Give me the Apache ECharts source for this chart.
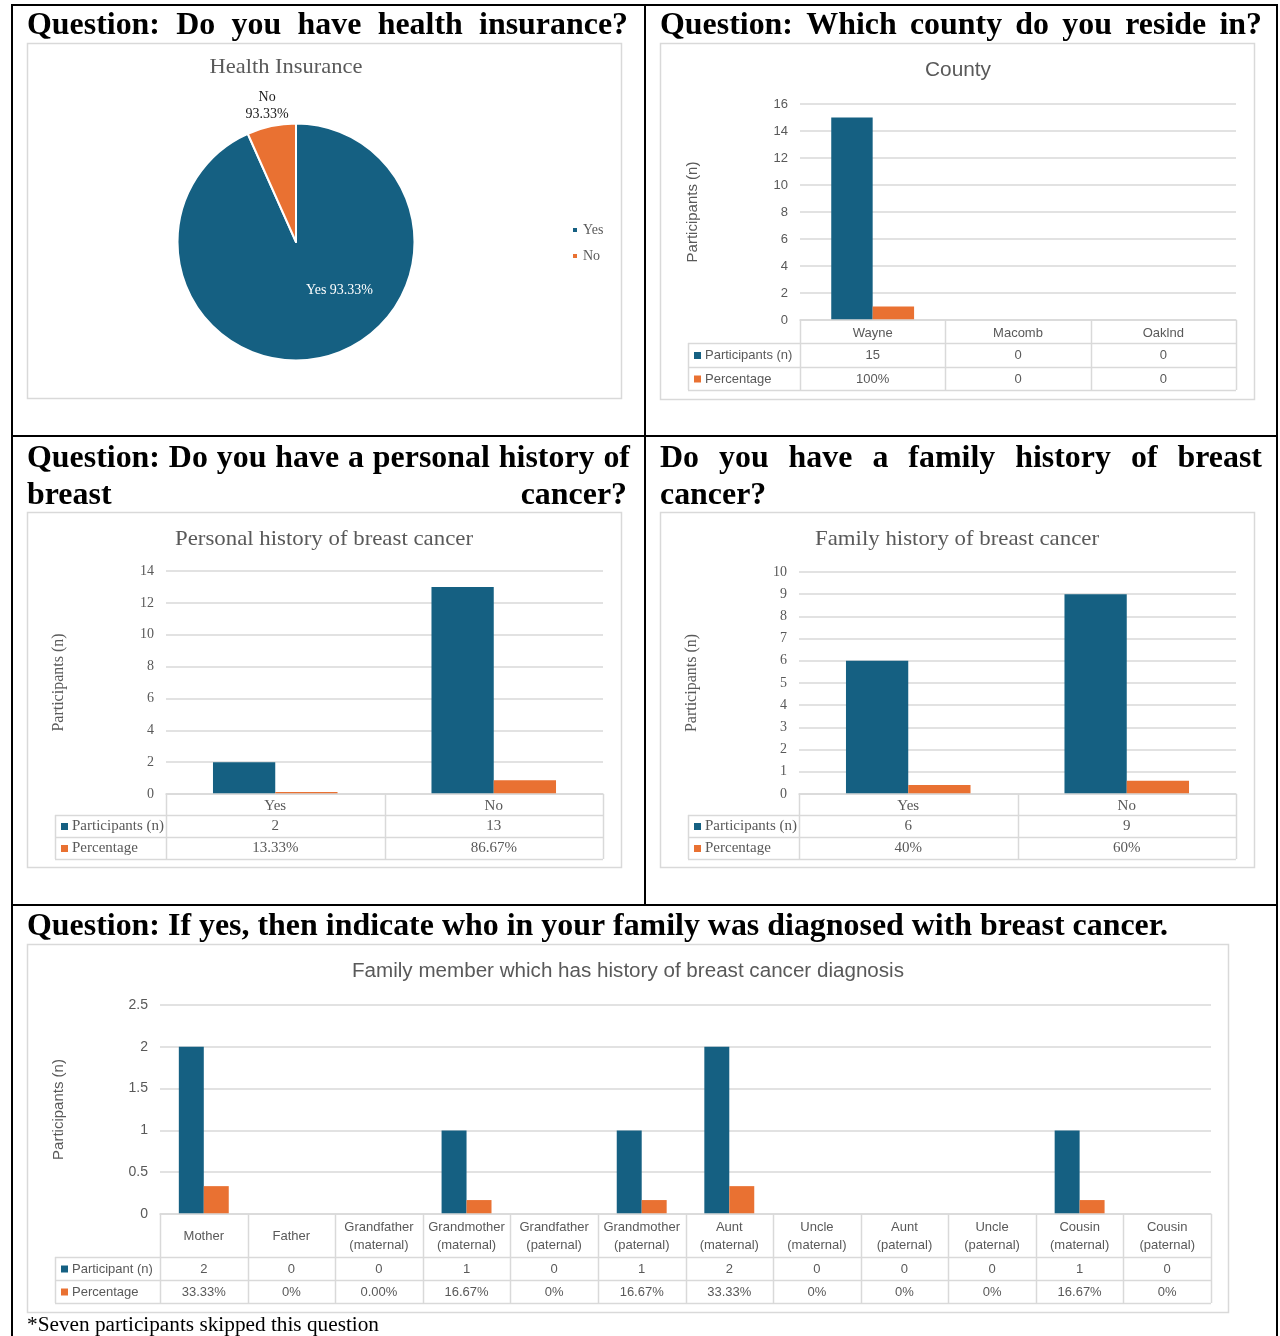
<!DOCTYPE html>
<html>
<head>
<meta charset="utf-8">
<title>Survey responses: insurance, county and breast cancer history</title>
<script src="https://cdn.jsdelivr.net/npm/echarts@6/dist/echarts.min.js"></script>
<style>
  html, body { margin: 0; padding: 0; background: #ffffff; }
  #main { width: 1280px; height: 1336px; }
</style>
</head>
<body>
<div id="main"></div>
<script>
// ---------------- survey data ----------------
const insuranceCategories = ['Yes', 'No'];
const insuranceShares = [93.33, 6.67];
const insuranceLabels = ['Yes 93.33%', 'No\n93.33%'];

const countyCategories = ['Wayne', 'Macomb', 'Oaklnd'];
const countyParticipants = [15, 0, 0];
const countyPercentText = ['100%', '0', '0'];

const personalCategories = ['Yes', 'No'];
const personalParticipants = [2, 13];
const personalPercentText = ['13.33%', '86.67%'];

const familyCategories = ['Yes', 'No'];
const familyParticipants = [6, 9];
const familyPercentText = ['40%', '60%'];

const memberCategories = [
  'Mother', 'Father', 'Grandfather\n(maternal)', 'Grandmother\n(maternal)',
  'Grandfather\n(paternal)', 'Grandmother\n(paternal)', 'Aunt\n(maternal)', 'Uncle\n(maternal)',
  'Aunt\n(paternal)', 'Uncle\n(paternal)', 'Cousin\n(maternal)', 'Cousin\n(paternal)'
];
const memberParticipants = [2, 0, 0, 1, 0, 1, 2, 0, 0, 0, 1, 0];
const memberPercentText = ['33.33%', '0%', '0.00%', '16.67%', '0%', '16.67%', '33.33%', '0%', '0%', '0%', '16.67%', '0%'];

const countyAxis = { max: 16, interval: 2 };
const personalAxis = { max: 14, interval: 2 };
const familyAxis = { max: 10, interval: 1 };
const memberAxis = { max: 2.5, interval: 0.5 };

// ---------------- styling ----------------
const SERIF = "'Liberation Serif', 'Times New Roman', serif";
const SANS = "'Liberation Sans', Arial, sans-serif";
const BLUE = '#156082';
const ORANGE = '#E97132';
const GRID_C = '#d9d9d9';
const TEXT_C = '#595959';
const FRAME_C = '#000000';

// "100%" -> 1, "13.33%" -> 0.1333, "0" -> 0
function percentValue(t) {
  const v = parseFloat(t);
  return t.indexOf('%') >= 0 ? v / 100 : v;
}

// ---------------- panel layout ----------------
const barPanels = [
  {
    font: SANS, box: [660, 43, 594, 356],
    title: 'County', titleX: 958, titleY: 70, titleSize: 20, titleW: 66,
    grid: { left: 800, top: 104, width: 436, height: 216 },
    axis: countyAxis, tickSize: 13, nameSize: 15, nameGap: 100, catSize: 13, cellSize: 13, catShift: 1.5,
    tableLeft: 688, rows: [23, 24, 23], rowLabels: ['Participants (n)', 'Percentage'],
    cats: countyCategories, counts: countyParticipants, pct: countyPercentText
  },
  {
    font: SERIF, box: [27, 512, 594, 355],
    title: 'Personal history of breast cancer', titleX: 324, titleY: 539, titleSize: 22, titleW: 298,
    grid: { left: 166, top: 571, width: 437, height: 223 },
    axis: personalAxis, tickSize: 14, nameSize: 16, nameGap: 99, catSize: 15, cellSize: 15, catShift: 1.5,
    tableLeft: 55, rows: [21, 22, 22], rowLabels: ['Participants (n)', 'Percentage'],
    cats: personalCategories, counts: personalParticipants, pct: personalPercentText
  },
  {
    font: SERIF, box: [660, 512, 594, 355],
    title: 'Family history of breast cancer', titleX: 957, titleY: 539, titleSize: 22, titleW: 284,
    grid: { left: 799, top: 572, width: 437, height: 222 },
    axis: familyAxis, tickSize: 14, nameSize: 16, nameGap: 99, catSize: 15, cellSize: 15, catShift: 1.5,
    tableLeft: 688, rows: [21, 22, 22], rowLabels: ['Participants (n)', 'Percentage'],
    cats: familyCategories, counts: familyParticipants, pct: familyPercentText
  },
  {
    font: SANS, box: [27, 944, 1201, 368],
    title: 'Family member which has history of breast cancer diagnosis', titleX: 628, titleY: 971, titleSize: 20, titleW: 552,
    grid: { left: 160, top: 1005, width: 1051, height: 209 },
    axis: memberAxis, tickSize: 14, nameSize: 15, nameGap: 94, catSize: 13, cellSize: 13, lineHeight: 18, catShift: 1,
    tableLeft: 55, rows: [43, 23, 23], rowLabels: ['Participant (n)', 'Percentage'],
    cats: memberCategories, counts: memberParticipants, pct: memberPercentText
  }
];

const pieCenter = [296, 242];
const pieRadius = 118.5;

// ---------------- text measuring ----------------
const measureCtx = document.createElement('canvas').getContext('2d');
function textWidth(text, font) {
  measureCtx.font = font;
  return measureCtx.measureText(text).width;
}
function fontFirst(family) { return family.split(',')[0]; }

const Q_SIZE = 32;
const Q_FONT = 'bold ' + Q_SIZE + "px 'Liberation Serif'";
const longQuestion = 'Question: If yes, then indicate who in your family was diagnosed with breast cancer.';
const qScale = (1168 - 27) / textWidth(longQuestion, Q_FONT);

// heading line, word by word; justified lines spread the words over [x0, x1]
function questionLine(text, x0, x1, yMid, justify) {
  const words = text.split(' ');
  const widths = words.map(w => textWidth(w, Q_FONT) * qScale);
  const used = widths.reduce((a, b) => a + b, 0);
  const gap = (justify && words.length > 1)
    ? (x1 - x0 - used) / (words.length - 1)
    : textWidth(' ', Q_FONT) * qScale;
  const els = [];
  let x = x0;
  words.forEach((w, i) => {
    els.push({
      type: 'text', x: x, y: yMid, scaleX: qScale, z: 10,
      style: {
        text: w, fill: '#000', fontFamily: "'Liberation Serif'", fontWeight: 'bold', fontSize: Q_SIZE,
        align: 'left', verticalAlign: 'middle', textAlign: 'left', textVerticalAlign: 'middle'
      }
    });
    x += widths[i] + gap;
  });
  return els;
}

function txt(text, x, y, font, size, color, align, extra) {
  return Object.assign({
    type: 'text', x: x, y: y, z: 10,
    style: {
      text: text, fill: color, fontFamily: font, fontSize: size,
      align: align || 'center', verticalAlign: 'middle',
      textAlign: align || 'center', textVerticalAlign: 'middle'
    }
  }, extra || {});
}

// chart title stretched to its box width
function titleText(text, x, y, font, size, width) {
  const s = width / textWidth(text, size + 'px ' + fontFirst(font));
  return txt(text, x, y, font, size, TEXT_C, 'center', { scaleX: s });
}

function hline(x1, x2, y, color, w) {
  return { type: 'line', z: 5, shape: { x1: x1, y1: y, x2: x2, y2: y }, style: { stroke: color, lineWidth: w } };
}
function vline(x, y1, y2, color, w) {
  return { type: 'line', z: 5, shape: { x1: x, y1: y1, x2: x, y2: y2 }, style: { stroke: color, lineWidth: w } };
}
function box(x, y, w, h) {
  return { type: 'rect', z: 1, shape: { x: x + 0.5, y: y + 0.5, width: w, height: h }, style: { fill: 'none', stroke: GRID_C, lineWidth: 1.5 } };
}

// ---------------- graphic elements ----------------
const graphics = [];

// outer page frame
graphics.push(hline(11, 1278, 5, FRAME_C, 2));
graphics.push(hline(11, 1278, 436, FRAME_C, 2));
graphics.push(hline(11, 1278, 905, FRAME_C, 2));
graphics.push(vline(12, 4, 1336, FRAME_C, 2));
graphics.push(vline(1277, 4, 1336, FRAME_C, 2));
graphics.push(vline(645, 4, 905, FRAME_C, 2));

// question headings
graphics.push(...questionLine('Question: Do you have health insurance?', 27, 628, 26, true));
graphics.push(...questionLine('Question: Which county do you reside in?', 660, 1262, 26, true));
graphics.push(...questionLine('Question: Do you have a personal history of', 27, 630, 459, true));
graphics.push(...questionLine('breast cancer?', 27, 627, 496, true));
graphics.push(...questionLine('Do you have a family history of breast', 660, 1262, 459, true));
graphics.push(...questionLine('cancer?', 660, 1262, 496, false));
graphics.push(...questionLine(longQuestion, 27, 1168, 927, false));

// footnote
const noteText = '*Seven participants skipped this question';
const noteScale = (379 - 27) / textWidth(noteText, "20px 'Liberation Serif'");
graphics.push(txt(noteText, 27, 1326, "'Liberation Serif'", 20, '#000', 'left', { scaleX: noteScale }));

// pie panel box and title
graphics.push(box(27, 43, 594, 355));
graphics.push(titleText('Health Insurance', 286, 67, SERIF, 22, 153));

// bar panels: box, title and data table under each plot
barPanels.forEach(p => {
  const b = p.box;
  graphics.push(box(b[0], b[1], b[2], b[3]));
  graphics.push(titleText(p.title, p.titleX, p.titleY, p.font, p.titleSize, p.titleW));

  const g = p.grid;
  const x0 = g.left, x1 = g.left + g.width;
  const y0 = g.top + g.height;
  const yH = y0 + p.rows[0];
  const yR1 = yH + p.rows[1];
  const yR2 = yR1 + p.rows[2];
  const cw = g.width / p.cats.length;

  graphics.push(hline(p.tableLeft, x1, yH + 0.5, GRID_C, 1.5));
  graphics.push(hline(p.tableLeft, x1, yR1 + 0.5, GRID_C, 1.5));
  graphics.push(hline(p.tableLeft, x1, yR2 + 0.5, GRID_C, 1.5));
  graphics.push(vline(p.tableLeft + 0.5, yH, yR2, GRID_C, 1.5));
  for (let i = 0; i <= p.cats.length; i++) {
    graphics.push(vline(Math.round(x0 + i * cw) + 0.5, y0, yR2, GRID_C, 1.5));
  }

  // row headers with legend keys
  const rowMid = [(yH + yR1) / 2 + 0.5, (yR1 + yR2) / 2 + 0.5];
  [BLUE, ORANGE].forEach((c, r) => {
    graphics.push({ type: 'rect', z: 10, shape: { x: p.tableLeft + 6, y: rowMid[r] - 3.5, width: 7, height: 7 }, style: { fill: c } });
    graphics.push(txt(p.rowLabels[r], p.tableLeft + 17, rowMid[r], p.font, p.cellSize, TEXT_C, 'left'));
  });

  // cell values
  p.cats.forEach((c, i) => {
    const cx = x0 + (i + 0.5) * cw;
    graphics.push(txt(String(p.counts[i]), cx, rowMid[0], p.font, p.cellSize, TEXT_C));
    graphics.push(txt(p.pct[i], cx, rowMid[1], p.font, p.cellSize, TEXT_C));
  });
});

// ---------------- series ----------------
const totalShare = insuranceShares.reduce((a, b) => a + b, 0);
// label anchors: angle (deg, clockwise from 12 o'clock) and distance from centre
function pieLabelAnchor(idx) {
  if (idx === 0) return { angle: 138, r: 65 };
  let before = 0;
  for (let k = 0; k < idx; k++) before += insuranceShares[k];
  const mid = (before + insuranceShares[idx] / 2) / totalShare * 360;
  return { angle: mid, r: 139 };
}

const series = [{
  type: 'pie',
  name: 'Health Insurance',
  center: pieCenter,
  radius: pieRadius,
  startAngle: 90,
  clockwise: true,
  z: 3,
  silent: true,
  itemStyle: { borderColor: '#ffffff', borderWidth: 2 },
  label: { show: true, position: 'inside', fontFamily: SERIF, fontSize: 14, lineHeight: 17 },
  labelLine: { show: false },
  labelLayout: function (params) {
    const a = pieLabelAnchor(params.dataIndex);
    const rad = a.angle * Math.PI / 180;
    return {
      x: pieCenter[0] + a.r * Math.sin(rad),
      y: pieCenter[1] - a.r * Math.cos(rad),
      align: 'center',
      verticalAlign: 'middle'
    };
  },
  data: insuranceCategories.map((n, i) => ({
    name: n,
    value: insuranceShares[i],
    itemStyle: { color: i === 0 ? BLUE : ORANGE },
    label: { color: i === 0 ? '#ffffff' : '#1a1a1a', formatter: insuranceLabels[i] }
  }))
}];

barPanels.forEach((p, i) => {
  series.push({
    type: 'bar', name: p.rowLabels[0], xAxisIndex: i, yAxisIndex: i, z: 3,
    barGap: '0%', barCategoryGap: '43%',
    itemStyle: { color: BLUE },
    data: p.counts
  });
  series.push({
    type: 'bar', name: 'Percentage', xAxisIndex: i, yAxisIndex: i, z: 3,
    barGap: '0%', barCategoryGap: '43%',
    itemStyle: { color: ORANGE },
    data: p.pct.map(percentValue)
  });
});

// ---------------- chart ----------------
const chart = echarts.init(document.getElementById('main'), null, { renderer: 'canvas', width: 1280, height: 1336 });

chart.setOption({
  animation: false,
  backgroundColor: '#ffffff',
  textStyle: { fontFamily: SANS },
  legend: {
    data: insuranceCategories,
    orient: 'vertical',
    left: 566, top: 218,
    icon: 'rect', itemWidth: 6, itemHeight: 6, itemGap: 12,
    selectedMode: false,
    textStyle: { fontFamily: SERIF, fontSize: 14, color: TEXT_C }
  },
  grid: barPanels.map(p => ({
    left: p.grid.left, top: p.grid.top, width: p.grid.width, height: p.grid.height,
    containLabel: false, outerBoundsMode: 'none'
  })),
  xAxis: barPanels.map((p, i) => ({
    type: 'category', gridIndex: i, data: p.cats, z: 4,
    axisTick: { show: false },
    axisLine: { show: true, lineStyle: { color: GRID_C, width: 1.5 } },
    splitLine: { show: false },
    axisLabel: {
      interval: 0, margin: p.rows[0] / 2 + p.catShift, verticalAlign: 'middle', hideOverlap: false,
      fontFamily: p.font, fontSize: p.catSize, color: TEXT_C, lineHeight: p.lineHeight || (p.catSize + 3)
    }
  })),
  yAxis: barPanels.map((p, i) => ({
    type: 'value', gridIndex: i, min: 0, max: p.axis.max, interval: p.axis.interval, z: 2,
    axisLine: { show: false }, axisTick: { show: false },
    splitLine: { show: true, lineStyle: { color: GRID_C, width: 1.5 } },
    axisLabel: { margin: 12, fontFamily: p.font, fontSize: p.tickSize, color: TEXT_C },
    name: 'Participants (n)', nameLocation: 'middle', nameGap: p.nameGap, nameRotate: 90,
    nameTextStyle: { fontFamily: p.font, fontSize: p.nameSize, color: TEXT_C }
  })),
  series: series,
  graphic: { elements: graphics }
});
</script>
</body>
</html>
